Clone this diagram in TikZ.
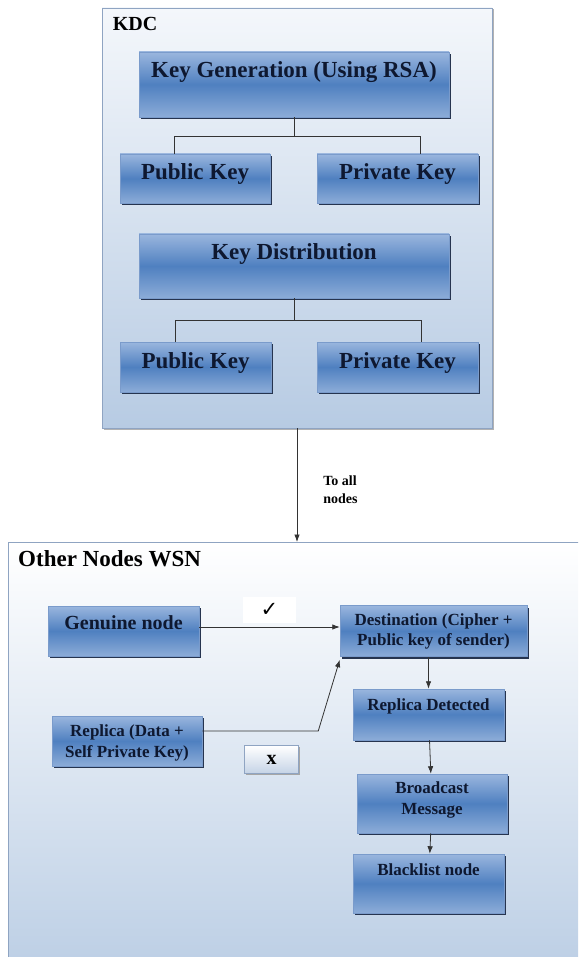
\documentclass[tikz,border=0pt]{standalone}
\usepackage{fontspec}
\setmainfont{Liberation Serif}
\newfontfamily\symfont{DejaVu Sans}
\usetikzlibrary{shadows,arrows.meta}

\definecolor{boxtop}{HTML}{9AB6DE}
\definecolor{boxmid}{HTML}{4F80C0}
\definecolor{boxbot}{HTML}{8CACD8}
\definecolor{boxedge}{HTML}{7A9BCB}
\definecolor{boxshadow}{HTML}{26344F}
\definecolor{panetop}{HTML}{F4F7FB}
\definecolor{panebot}{HTML}{B7CBE3}
\definecolor{paneedge}{HTML}{8FA4C2}
\definecolor{crossbot}{HTML}{C5D3E6}
\definecolor{inktext}{HTML}{0E1830}
\definecolor{wirec}{HTML}{333333}

\begin{document}
\begin{tikzpicture}[
  x=1pt, y=1pt,
  >={Latex[length=7.5pt,width=5.5pt]},
  pane/.style={rectangle, draw=paneedge, line width=0.6pt, top color=panetop, bottom color=panebot},
  block/.style={rectangle, draw=boxedge, line width=0.5pt, inner sep=0pt,
    top color=boxtop, bottom color=boxbot, middle color=boxmid,
    drop shadow={shadow xshift=1.5pt, shadow yshift=-2pt, fill=boxshadow, opacity=1},
    text=inktext, align=center},
  bigblock/.style={block, font=\fontsize{23}{26}\selectfont\bfseries, text height=26pt},
  smallblock/.style={block, font=\fontsize{17}{20.5}\selectfont\bfseries},
  title/.style={inner sep=0pt, anchor=base west, text=black},
  tickbox/.style={fill=white, minimum width=53pt, minimum height=26pt, inner sep=0pt, font=\fontsize{21}{21}\symfont\bfseries},
  crossbox/.style={rectangle, draw=paneedge, line width=0.5pt, top color=white, bottom color=crossbot,
    drop shadow={shadow xshift=1pt, shadow yshift=-1.5pt, fill=gray!70, opacity=1},
    minimum width=54pt, minimum height=28pt, inner sep=0pt, font=\fontsize{20}{20}\selectfont\bfseries},
  wire/.style={draw=wirec, line width=0.8pt}
]
\useasboundingbox (0,0) rectangle (578,-957);
\clip (0,0) rectangle (578,-957);

% containers
\node[pane, minimum width=390pt, minimum height=420pt,
  drop shadow={shadow xshift=1.5pt, shadow yshift=-1.5pt, fill=gray!60, opacity=1}] (kdc) at (297,-218) {};
\node[title, font=\fontsize{20}{20}\selectfont\bfseries] (kdctitle) at ([shift={(11pt,-23pt)}]kdc.north west) {KDC};
\node[pane, top color=white, anchor=north west, minimum width=600pt, minimum height=460pt] (wsn) at (8,-542) {};
\node[title, font=\fontsize{23}{23}\selectfont\bfseries] (wsntitle) at ([shift={(10pt,-24pt)}]wsn.north west) {Other Nodes WSN};

% KDC
\node[bigblock, minimum width=310pt, text depth=39pt] (gen) at (294,-84.5) {Key Generation (Using RSA)};
\node[bigblock, minimum width=150pt, text depth=23pt, below of=gen, node distance=94pt, xshift=-99pt] (pubgen) {Public Key};
\node[bigblock, minimum width=161pt, text depth=23pt, right of=pubgen, node distance=202.5pt] (privgen) {Private Key};
\node[bigblock, minimum width=310pt, text depth=38pt, below of=gen, node distance=181.5pt] (dist) {Key Distribution};
\node[bigblock, minimum width=151pt, text depth=24pt, below of=dist, node distance=101pt, xshift=-98.5pt] (pubdist) {Public Key};
\node[bigblock, minimum width=161pt, text depth=24pt, right of=pubdist, node distance=202pt] (privdist) {Private Key};

\draw[wire] (gen.south) -- ++(0,-19) -| ([xshift=-21pt]pubgen.north);
\draw[wire] (gen.south) ++(0,-19) -| ([xshift=22.5pt]privgen.north);
\draw[wire] (dist.south) -- ++(0,-22) -| ([xshift=-20.5pt]pubdist.north);
\draw[wire] (dist.south) ++(0,-22) -| ([xshift=23.5pt]privdist.north);

\draw[wire,->] (kdc.south) -- (kdc.south |- wsn.north)
  node[pos=0.54, right, xshift=26pt, inner sep=0pt, align=left, font=\fontsize{14}{18}\selectfont\bfseries] (toall) {To all\\nodes};

% WSN
\node[smallblock, minimum width=151pt, text height=23pt, text depth=27pt, font=\fontsize{20}{24}\selectfont\bfseries] (genuine) at (123.5,-631) {Genuine node};
\node[smallblock, minimum width=187pt, text height=40pt, text depth=11pt, right of=genuine, node distance=310pt] (dest) {Destination (Cipher +\\Public key of sender)};
\node[smallblock, minimum width=150pt, text height=41pt, text depth=9pt, below of=genuine, node distance=110pt, xshift=3.5pt] (replica) {Replica (Data +\\Self Private Key)};
\node[smallblock, minimum width=151pt, text height=21pt, text depth=30pt, below of=dest, node distance=83.5pt, xshift=-5pt] (repdet) {Replica Detected};
\node[smallblock, minimum width=150pt, text height=40pt, text depth=19pt, below of=repdet, node distance=89pt, xshift=3.5pt] (bcast) {Broadcast\\Message};
\node[smallblock, minimum width=151pt, text height=21pt, text depth=38pt, below of=bcast, node distance=80pt, xshift=-3.5pt] (blist) {Blacklist node};
\node[crossbox, right of=replica, node distance=144.5pt, yshift=-18.5pt] (cross) {x};

\draw[wire,->] ([yshift=4pt]genuine.east) -- ([yshift=4pt]genuine.east -| dest.west)
  node[midway, above=4pt, tickbox] (tick) {✓};
\draw[wire,->] ([yshift=10pt]replica.east) -- ++(116,0) -- ([yshift=-3pt]dest.south west);
\draw[wire,->] (dest.south -| repdet) -- (repdet);
\draw[wire,->] (repdet) -- (bcast);
\draw[wire,->] (bcast) -- (blist);
\end{tikzpicture}
\end{document}
